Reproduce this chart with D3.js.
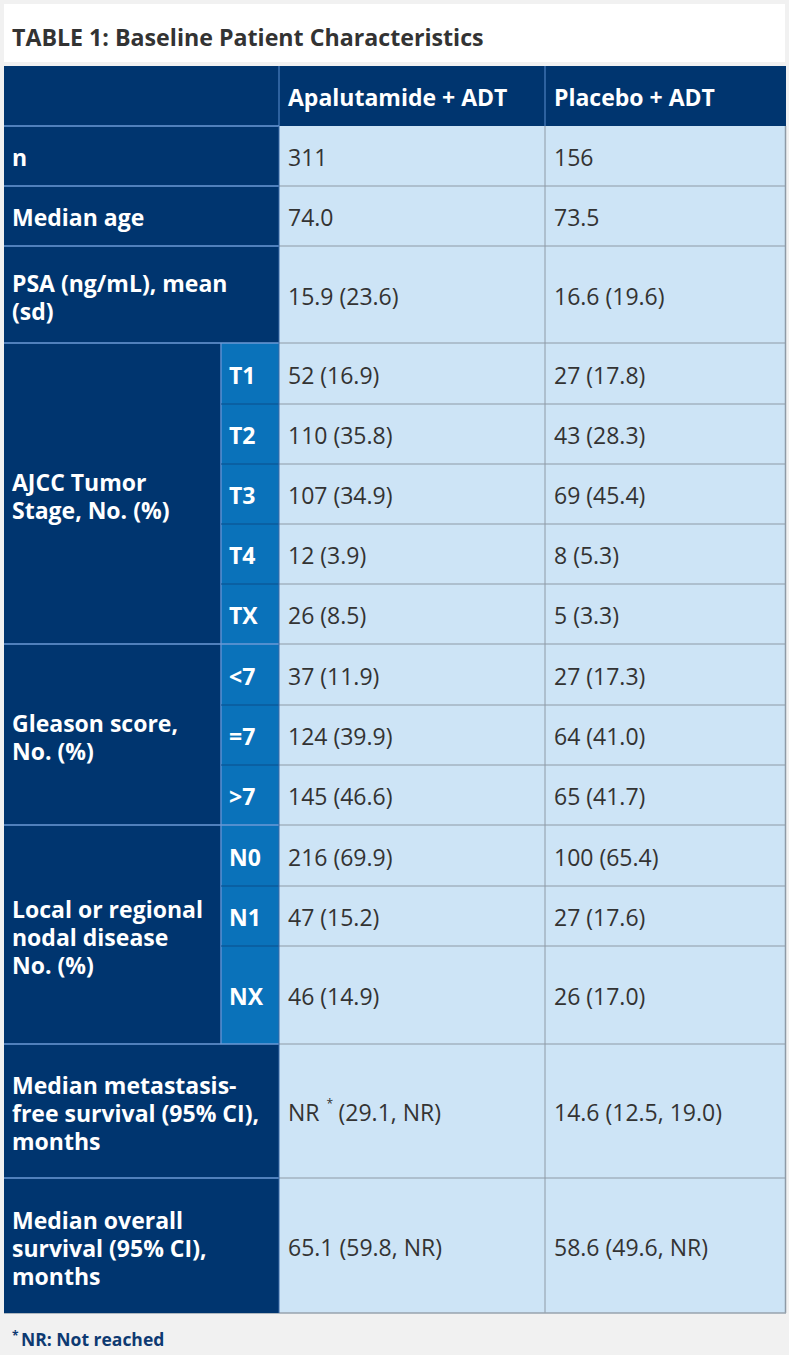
<!DOCTYPE html>
<html>
<head>
<meta charset="utf-8">
<script src="https://cdn.jsdelivr.net/npm/d3@7"></script>
<style>
  body { margin: 0; background: #f1f1f1; }
  svg { display: block; font-family: "Open Sans", "Noto Sans", sans-serif; }
</style>
</head>
<body>
<div id="chart"></div>
<script>
const width = 789, height = 1355;

// table content
const title = "TABLE 1: Baseline Patient Characteristics";
const columns = ["Apalutamide + ADT", "Placebo + ADT"];
const groups = [
    { label: ["n"], subs: [null] },
    { label: ["Median age"], subs: [null] },
    { label: ["PSA (ng/mL), mean", "(sd)"], subs: [null] },
    { label: ["AJCC Tumor", "Stage, No. (%)"], subs: ["T1", "T2", "T3", "T4", "TX"] },
    { label: ["Gleason score,", "No. (%)"], subs: ["<7", "=7", ">7"] },
    { label: ["Local or regional", "nodal disease", "No. (%)"], subs: ["N0", "N1", "NX"] },
    { label: ["Median metastasis-", "free survival (95% CI),", "months"], subs: [null] },
    { label: ["Median overall", "survival (95% CI),", "months"], subs: [null] }
];
const apalutamide = ["311", "74.0", "15.9 (23.6)",
    "52 (16.9)", "110 (35.8)", "107 (34.9)", "12 (3.9)", "26 (8.5)",
    "37 (11.9)", "124 (39.9)", "145 (46.6)",
    "216 (69.9)", "47 (15.2)", "46 (14.9)",
    "NR* (29.1, NR)", "65.1 (59.8, NR)"];
const placebo = ["156", "73.5", "16.6 (19.6)",
    "27 (17.8)", "43 (28.3)", "69 (45.4)", "8 (5.3)", "5 (3.3)",
    "27 (17.3)", "64 (41.0)", "65 (41.7)",
    "100 (65.4)", "27 (17.6)", "26 (17.0)",
    "14.6 (12.5, 19.0)", "58.6 (49.6, NR)"];
const footnote = "NR: Not reached";

// layout
const navy = "#00356f", mid = "#0a72ba", light = "#cde4f6";
const textDark = "#333";
const rowHeights = [60, 60, 97, 61, 60, 60, 60, 60, 61, 60, 60, 61, 60, 98, 134, 135];
const tableTop = 66, headerH = 60;
const x = { left: 4, sub: 221, c1: 279, c2: 545, right: 786 };
const fs = 23, lineH = 28;
const base = fs * 0.36 + 2;   // baseline offset from a cell's middle

const rowTops = [0, ...d3.cumsum(rowHeights)].map(v => v + tableTop + headerH);

const svg = d3.select("#chart").append("svg")
    .attr("width", width).attr("height", height);

svg.append("rect").attr("width", width).attr("height", height).attr("fill", "#f1f1f1");

// title band
svg.append("rect").attr("x", 4).attr("y", 4).attr("width", 781).attr("height", 58).attr("fill", "#fff");
svg.append("text").attr("x", 12).attr("y", 46)
    .attr("font-size", 23.2).attr("font-weight", 700).attr("fill", textDark)
    .text(title);

// header
const header = svg.append("g");
header.append("rect").attr("x", x.left).attr("y", tableTop)
    .attr("width", x.right - x.left).attr("height", headerH).attr("fill", navy);
header.append("line").attr("x1", x.c1).attr("x2", x.c1).attr("y1", tableTop).attr("y2", tableTop + headerH)
    .attr("stroke", "#5b8fd0").attr("stroke-width", 1);
header.append("line").attr("x1", x.c2).attr("x2", x.c2).attr("y1", tableTop).attr("y2", tableTop + headerH)
    .attr("stroke", "#5b8fd0").attr("stroke-width", 1);
header.selectAll("text.col").data(columns).enter().append("text")
    .attr("x", (d, i) => (i === 0 ? x.c1 : x.c2) + 9)
    .attr("y", tableTop + headerH / 2 + base)
    .attr("font-size", fs).attr("font-weight", 700).attr("fill", "#fff")
    .text(d => d);

// flatten rows
let rowIdx = 0;
const groupSpans = groups.map(g => {
    const start = rowIdx;
    rowIdx += g.subs.length;
    return { ...g, start, end: rowIdx };
});

const body = svg.append("g");

// value cells
const rows = d3.range(apalutamide.length).map(i => ({ i, vals: [apalutamide[i], placebo[i]] }));
rows.forEach(r => {
    const y0 = rowTops[r.i], h = rowHeights[r.i];
    body.append("rect").attr("x", x.c1).attr("y", y0).attr("width", x.right - x.c1).attr("height", h)
        .attr("fill", light);
    r.vals.forEach((v, j) => {
        const tx = (j === 0 ? x.c1 : x.c2) + 9, ty = y0 + h / 2 + base;
        const star = v.indexOf("*");
        if (star >= 0) {
            // superscript star kept as its own small text
            const head = body.append("text").attr("x", tx).attr("y", ty)
                .attr("font-size", fs).attr("fill", textDark).text(v.slice(0, star));
            const w = head.node().getComputedTextLength();
            body.append("text").attr("x", tx + w + 7).attr("y", ty - 13)
                .attr("font-size", 12).attr("fill", textDark).text("*");
            body.append("text").attr("x", tx + w + 19).attr("y", ty)
                .attr("font-size", fs).attr("fill", textDark).text(v.slice(star + 1).trim());
        } else {
            body.append("text").attr("x", tx).attr("y", ty)
                .attr("font-size", fs).attr("fill", textDark).text(v);
        }
    });
});

// gray grid in light area
for (let i = 1; i < rowTops.length - 1; i++) {
    body.append("line").attr("x1", x.c1).attr("x2", x.right)
        .attr("y1", rowTops[i]).attr("y2", rowTops[i])
        .attr("stroke", "#8e9aa6").attr("stroke-width", 1);
}
body.append("line").attr("x1", x.c2).attr("x2", x.c2)
    .attr("y1", tableTop + headerH).attr("y2", rowTops[rowTops.length - 1])
    .attr("stroke", "#8e9aa6").attr("stroke-width", 1);
body.append("line").attr("x1", x.right - 0.5).attr("x2", x.right - 0.5)
    .attr("y1", tableTop + headerH).attr("y2", rowTops[rowTops.length - 1])
    .attr("stroke", "#8e9aa6").attr("stroke-width", 1.5);
body.append("line").attr("x1", x.left).attr("x2", x.right)
    .attr("y1", rowTops[rowTops.length - 1]).attr("y2", rowTops[rowTops.length - 1])
    .attr("stroke", "#97a3ae").attr("stroke-width", 1.5);

// label cells
groupSpans.forEach(g => {
    const y0 = rowTops[g.start], y1 = rowTops[g.end];
    const hasSubs = g.subs[0] !== null;
    const labelRight = hasSubs ? x.sub : x.c1;
    body.append("rect").attr("x", x.left).attr("y", y0).attr("width", labelRight - x.left).attr("height", y1 - y0)
        .attr("fill", navy);
    const cy = (y0 + y1) / 2;
    const n = g.label.length;
    g.label.forEach((line, k) => {
        body.append("text").attr("x", 12)
            .attr("y", cy + (k - (n - 1) / 2) * lineH + base + (n > 1 ? 1 : 0))
            .attr("font-size", fs).attr("font-weight", 700).attr("fill", "#fff")
            .text(line);
    });
    if (hasSubs) {
        body.append("rect").attr("x", x.sub).attr("y", y0).attr("width", x.c1 - x.sub).attr("height", y1 - y0)
            .attr("fill", mid);
        body.append("line").attr("x1", x.sub).attr("x2", x.sub).attr("y1", y0).attr("y2", y1)
            .attr("stroke", "#5b8fd0").attr("stroke-width", 1.5);
        g.subs.forEach((s, k) => {
            const r = g.start + k;
            if (k > 0) {
                body.append("line").attr("x1", x.sub).attr("x2", x.c1)
                    .attr("y1", rowTops[r]).attr("y2", rowTops[r])
                    .attr("stroke", "#0b4f8c").attr("stroke-width", 1);
            }
            body.append("text").attr("x", x.sub + 8)
                .attr("y", rowTops[r] + rowHeights[r] / 2 + base)
                .attr("font-size", fs).attr("font-weight", 700).attr("fill", "#fff")
                .text(s);
        });
    }
});

// light blue separators between label groups
groupSpans.forEach(g => {
    const y = rowTops[g.start];
    body.append("line").attr("x1", x.left).attr("x2", x.c1).attr("y1", y).attr("y2", y)
        .attr("stroke", "#6b9ad6").attr("stroke-width", 1.5);
});
body.append("line").attr("x1", x.c1).attr("x2", x.c1)
    .attr("y1", tableTop + headerH).attr("y2", rowTops[rowTops.length - 1])
    .attr("stroke", "#3a6aa8").attr("stroke-width", 1);

// footnote
svg.append("text").attr("x", 12).attr("y", 1340)
    .attr("font-size", 12).attr("font-weight", 700).attr("fill", "#0d3a72").text("*");
svg.append("text").attr("x", 21).attr("y", 1346)
    .attr("font-size", 17.5).attr("font-weight", 700).attr("fill", "#0d3a72").text(footnote);
</script>
</body>
</html>
